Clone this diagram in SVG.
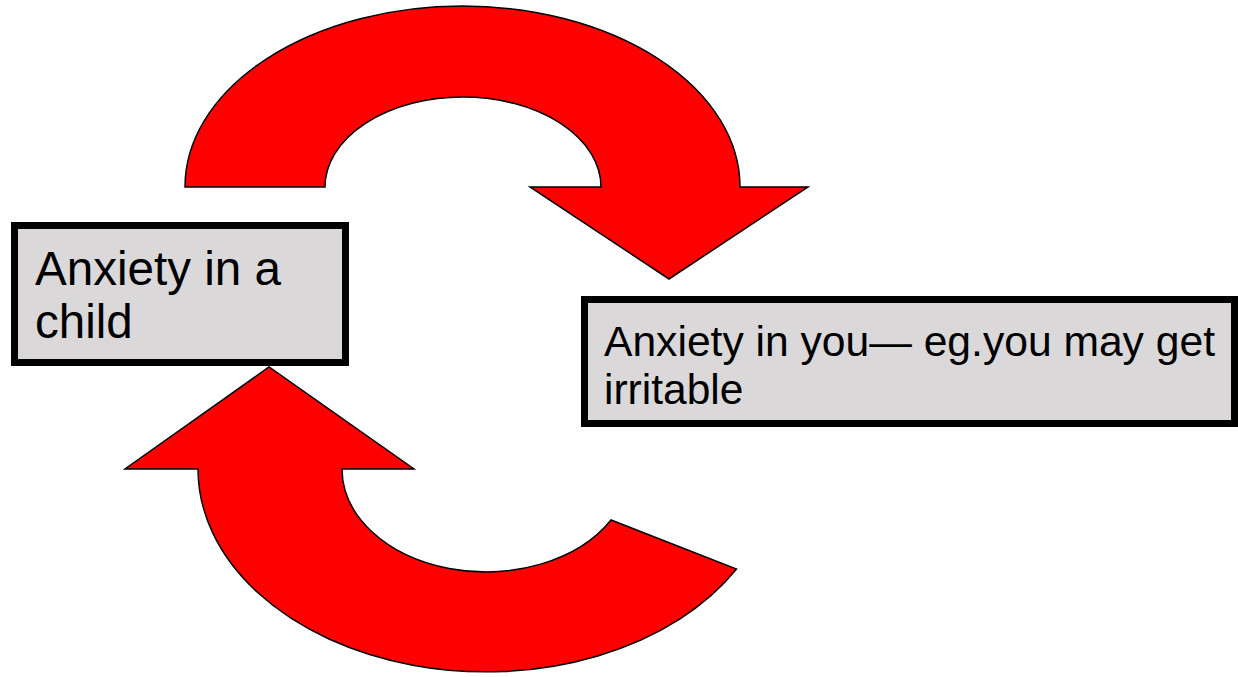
<svg xmlns="http://www.w3.org/2000/svg" width="1238" height="677" viewBox="0 0 1238 677">
<style>
.arrow{fill:#ff0000;stroke:#000;stroke-width:1.5;stroke-linejoin:miter}
.box{fill:#dad8d9;stroke:#000;stroke-width:7}
.lbl{font-family:"Liberation Sans",Arial,sans-serif;fill:#000}
</style>
<rect width="1238" height="677" fill="#fff"/>
<g id="connectors">
<path id="arrow-top" class="arrow" d="M185,187 A277.5,181 0 0 1 740,187 L808,187 L669,279 L530,187 L601,187 A138,90 0 0 0 325,187 Z"/>
<path id="arrow-bottom" class="arrow" d="M198,469 A288,203 0 0 0 736.5,569 L611,520 A144,103 0 0 1 342,469 L414,469 L269,367 L125,469 Z"/>
</g>
<g id="node-child">
<rect class="box" x="14.5" y="225.5" width="331" height="137"/>
<text class="lbl" font-size="47.5" x="35" y="285" textLength="246" lengthAdjust="spacingAndGlyphs">Anxiety in a</text>
<text class="lbl" font-size="47.5" x="35" y="338">child</text>
</g>
<g id="node-you">
<rect class="box" x="584.5" y="299.5" width="650" height="124"/>
<text class="lbl" font-size="42.5" x="604" y="356" textLength="611" lengthAdjust="spacingAndGlyphs">Anxiety in you— eg.you may get</text>
<text class="lbl" font-size="42.5" x="604" y="404">irritable</text>
</g>
</svg>
